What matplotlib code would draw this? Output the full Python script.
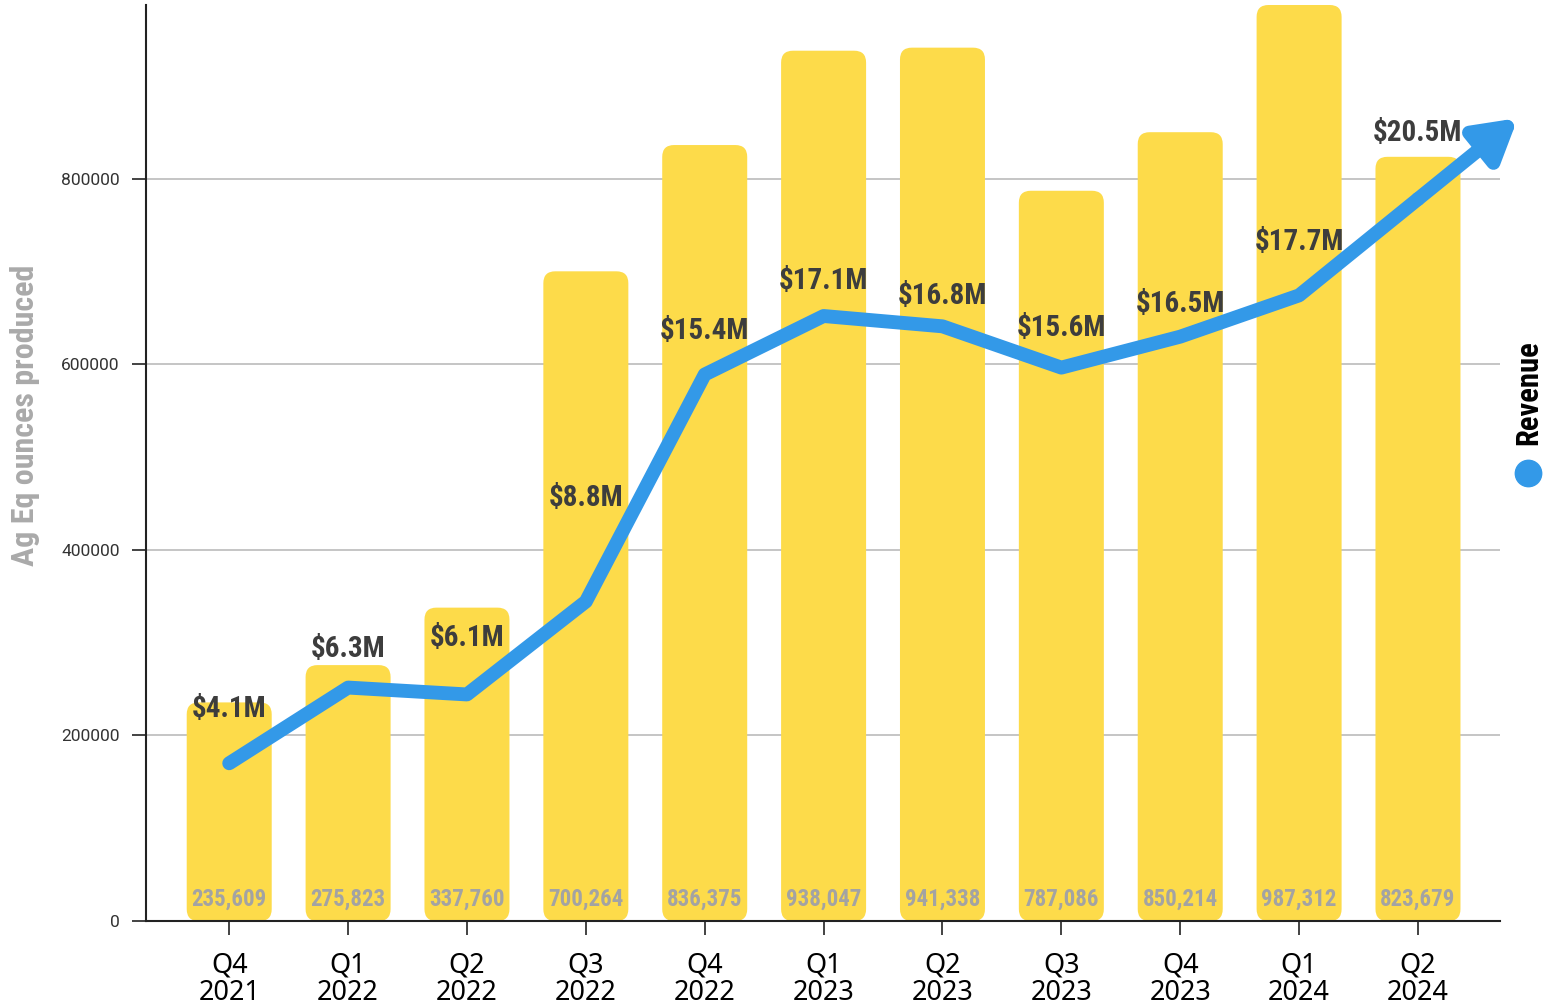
import numpy as np
import matplotlib
matplotlib.use("Agg")
import matplotlib.pyplot as plt
from matplotlib.patches import FancyBboxPatch

quarters = ["Q4\n2021", "Q1\n2022", "Q2\n2022", "Q3\n2022", "Q4\n2022", "Q1\n2023",
            "Q2\n2023", "Q3\n2023", "Q4\n2023", "Q1\n2024", "Q2\n2024"]
ounces = [235609, 275823, 337760, 700264, 836375, 938047, 941338, 787086, 850214, 987312, 823679]
revenue = [4.1, 6.3, 6.1, 8.8, 15.4, 17.1, 16.8, 15.6, 16.5, 17.7, 20.5]

# label lift above each line point, in pixels (layout only)
label_lift = [54, 39, 56, 104, 43, 35, 30, 40, 33, 53, 66]

BAR = "#FDDB4A"
LINE = "#3399E8"
COND = "Roboto Condensed"

fig = plt.figure(figsize=(15.51, 10.05), dpi=100)
ax = fig.add_axes([146 / 1551, 84 / 1005, (1500 - 146) / 1551, (921 - 5) / 1005])

x = np.arange(len(quarters))
ax.set_xlim(-0.70, 10.69)
ax.set_ylim(0, 987312)

# rounded bars
width = 0.715
px_x = 1354 / (10.69 + 0.70)        # pixels per x unit
px_y = 916 / 987312                  # pixels per y unit
aspect = (1 / px_y) / (1 / px_x)
for xi, v in zip(x, ounces):
    p = FancyBboxPatch((xi - width / 2, 0), width, v,
                       boxstyle="round,pad=0,rounding_size=0.1",
                       mutation_aspect=aspect, fc=BAR, ec="none", zorder=2)
    ax.add_patch(p)
    ax.text(xi, 23000, f"{v:,}", ha="center", va="center", fontsize=16.5,
            family=COND, weight="bold", color="#A3A3A3", zorder=3)

ax.set_yticks([0, 200000, 400000, 600000, 800000])
ax.yaxis.grid(True, color="#BBBBBB", lw=1.2, zorder=0)
ax.set_axisbelow(True)
ax.set_xticks(x)
ax.set_xticklabels(quarters, family="Noto Sans", fontsize=19.5, linespacing=0.95)
for lab in ax.get_yticklabels():
    lab.set_family("Roboto")
    lab.set_fontsize(12.5)
    lab.set_color("#333333")
ax.tick_params(axis="both", direction="out", length=10, width=1.2, color="#222222")
ax.tick_params(axis="x", pad=12)
ax.tick_params(axis="y", pad=9)
for s in ("top", "right"):
    ax.spines[s].set_visible(False)
for s in ("left", "bottom"):
    ax.spines[s].set_linewidth(1.5)
    ax.spines[s].set_color("#222222")

# revenue line on its own scale
ax2 = ax.twinx()
ax2.set_ylim(-0.485, 26.14)
ax2.axis("off")
ax2.plot(x, revenue, color=LINE, lw=10, solid_capstyle="round",
         solid_joinstyle="round", zorder=4)
end_x = x[-1] + 0.84
end_y = revenue[-1] + 0.84 * (revenue[-1] - revenue[-2])
ax2.annotate("", xy=(end_x, end_y), xytext=(x[-1], revenue[-1]),
             arrowprops=dict(arrowstyle="-|>,head_length=2.4,head_width=1.4",
                             color=LINE, lw=10, shrinkA=0, shrinkB=0),
             annotation_clip=False, zorder=4)
for xi, r, lift in zip(x, revenue, label_lift):
    ax2.annotate(f"${r}M", (xi, r), xytext=(0, lift), textcoords="offset pixels",
                 ha="center", va="center", fontsize=21, family=COND,
                 weight="bold", color="#3D3D3D", zorder=5)

fig.text(25 / 1551, 1 - 415 / 1005, "Ag Eq ounces produced", rotation=90,
         ha="center", va="center", fontsize=23, family=COND, weight="bold",
         color="#AAAAAA")

# legend
fig.text(1528 / 1551, 1 - 393 / 1005, "Revenue", rotation=90, ha="center",
         va="center", fontsize=22, family=COND, weight="bold", color="black")
fig.add_artist(plt.Line2D([1528 / 1551], [1 - 473 / 1005], marker="o",
                          markersize=19, color=LINE, transform=fig.transFigure))

fig.savefig("out.png", dpi=100)
